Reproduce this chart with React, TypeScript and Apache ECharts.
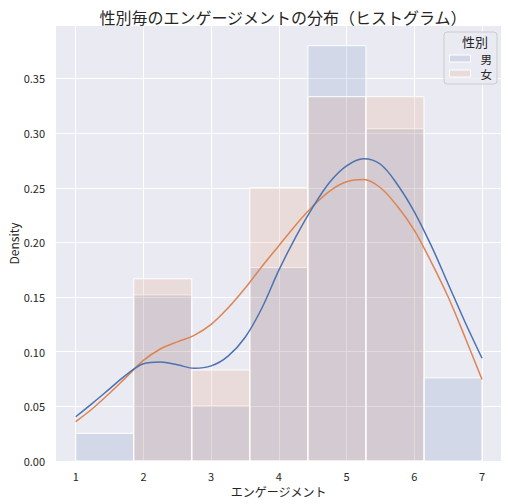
import React, { useEffect, useRef } from "react";
import * as echarts from "echarts";

const binEdges = [1, 1.857, 2.714, 3.571, 4.429, 5.286, 6.143, 7];
const maleDensity = [0.0253, 0.152, 0.0506, 0.177, 0.38, 0.304, 0.0761];
const femaleDensity = [0, 0.1667, 0.0833, 0.25, 0.3333, 0.3333, 0];

const kdeX = [1, 1.25, 1.5, 1.75, 2, 2.25, 2.5, 2.75, 3, 3.25, 3.5, 3.75, 4, 4.25, 4.5, 4.75, 5, 5.25, 5.5, 5.75, 6, 6.25, 6.5, 6.75, 7];
const maleKde = [0.0405, 0.053, 0.066, 0.079, 0.089, 0.0905, 0.088, 0.0848, 0.087, 0.096, 0.113, 0.14, 0.1746, 0.205, 0.232, 0.255, 0.27, 0.2765, 0.2715, 0.253, 0.228, 0.197, 0.162, 0.127, 0.094];
const femaleKde = [0.036, 0.048, 0.062, 0.077, 0.092, 0.1025, 0.109, 0.115, 0.125, 0.14, 0.158, 0.178, 0.197, 0.216, 0.233, 0.247, 0.2555, 0.2575, 0.25, 0.233, 0.211, 0.182, 0.15, 0.113, 0.0745];

const xTicks = [1, 2, 3, 4, 5, 6, 7];
const yTicks = [0, 0.05, 0.1, 0.15, 0.2, 0.25, 0.3, 0.35];

const title = "性別毎のエンゲージメントの分布（ヒストグラム）";
const xName = "エンゲージメント";
const yName = "Density";
const legendTitle = "性別";
const groups = ["男", "女"];

const FONT = "'Noto Sans CJK JP', 'Noto Sans', sans-serif";
const TEXT = "#262626";
const BLUE = "#4c72b0";
const ORANGE = "#dd8452";
const BLUE_FILL = "rgba(76,114,176,0.15)";
const ORANGE_FILL = "rgba(221,132,82,0.15)";

function histData(dens: number[]) {
  return dens.map((d, i) => [binEdges[i], binEdges[i + 1], d]);
}

function makeRender(fill: string) {
  return (params: any, api: any) => {
    const x0 = api.value(0);
    const x1 = api.value(1);
    const y = api.value(2);
    if (!y) return null;
    const p0 = api.coord([x0, y]);
    const p1 = api.coord([x1, 0]);
    return {
      type: "rect",
      shape: { x: p0[0], y: p0[1], width: p1[0] - p0[0], height: p1[1] - p0[1] },
      style: { fill, stroke: "#ffffff", lineWidth: 1 },
    };
  };
}

export default function App() {
  const ref = useRef<HTMLDivElement>(null);
  useEffect(() => {
    document.body.style.margin = "0";
    if (!ref.current) return;
    const chart = echarts.init(ref.current, null, { renderer: "svg" });
    chart.setOption({
      animation: false,
      textStyle: { fontFamily: FONT },
      title: {
        text: title,
        left: 278,
        textAlign: "center",
        top: 4,
        textStyle: { fontSize: 16, fontWeight: "normal", color: TEXT, fontFamily: FONT },
      },
      grid: {
        left: 56,
        right: 7,
        top: 26,
        bottom: 43,
        show: true,
        backgroundColor: "#eaeaf2",
        borderWidth: 0,
        containLabel: false,
        outerBoundsMode: "none",
      },
      xAxis: {
        type: "value",
        min: 0.709,
        max: 7.28,
        name: xName,
        nameLocation: "middle",
        nameGap: 24,
        nameMoveOverlap: false,
        nameTextStyle: { fontSize: 12, color: TEXT, fontFamily: FONT },
        axisLine: { show: false },
        axisTick: { show: false, customValues: xTicks },
        axisLabel: { customValues: xTicks, fontSize: 11, color: TEXT, margin: 9, fontFamily: FONT },
        splitLine: { show: true, lineStyle: { color: "#ffffff", width: 1 } },
      },
      yAxis: {
        type: "value",
        min: 0,
        max: 0.398,
        name: yName,
        nameLocation: "middle",
        nameGap: 37,
        nameMoveOverlap: false,
        nameTextStyle: { fontSize: 12, color: TEXT, fontFamily: FONT },
        axisLine: { show: false },
        axisTick: { show: false, customValues: yTicks },
        axisLabel: {
          customValues: yTicks,
          fontSize: 11,
          color: TEXT,
          margin: 11,
          fontFamily: FONT,
          formatter: (v: number) => v.toFixed(2),
        },
        splitLine: { show: true, lineStyle: { color: "#ffffff", width: 1 } },
      },
      legend: {
        orient: "vertical",
        right: 11,
        top: 32,
        padding: [20, 5, 4, 5],
        itemGap: 2,
        itemWidth: 21,
        itemHeight: 7,
        backgroundColor: "rgba(234,234,242,0.8)",
        borderColor: "#cccccc",
        borderWidth: 1,
        borderRadius: 3,
        textStyle: { fontSize: 11.5, color: TEXT, fontFamily: FONT, lineHeight: 13, padding: [0, 0, 0, 5] },
        data: [
          { name: groups[0], icon: "rect", itemStyle: { color: BLUE_FILL, borderColor: "#ffffff", borderWidth: 1 } },
          { name: groups[1], icon: "rect", itemStyle: { color: ORANGE_FILL, borderColor: "#ffffff", borderWidth: 1 } },
        ],
      },
      graphic: [
        {
          type: "text",
          right: 20,
          top: 35,
          style: { text: legendTitle, fontSize: 13, fill: TEXT, fontFamily: FONT },
          z: 100,
        },
      ],
      series: [
        {
          name: groups[0],
          type: "custom",
          renderItem: makeRender(BLUE_FILL),
          encode: { x: [0, 1], y: 2 },
          data: histData(maleDensity),
          itemStyle: { color: BLUE_FILL },
          z: 2,
        },
        {
          name: groups[1],
          type: "custom",
          renderItem: makeRender(ORANGE_FILL),
          encode: { x: [0, 1], y: 2 },
          data: histData(femaleDensity),
          itemStyle: { color: ORANGE_FILL },
          z: 3,
        },
        {
          name: groups[1],
          type: "line",
          data: kdeX.map((x, i) => [x, femaleKde[i]]),
          smooth: 0.35,
          showSymbol: false,
          lineStyle: { color: ORANGE, width: 1.5 },
          itemStyle: { color: ORANGE },
          z: 4,
        },
        {
          name: groups[0],
          type: "line",
          data: kdeX.map((x, i) => [x, maleKde[i]]),
          smooth: 0.35,
          showSymbol: false,
          lineStyle: { color: BLUE, width: 1.5 },
          itemStyle: { color: BLUE },
          z: 5,
        },
      ],
    });
    return () => chart.dispose();
  }, []);
  return <div ref={ref} style={{ width: 508, height: 504 }} />;
}
